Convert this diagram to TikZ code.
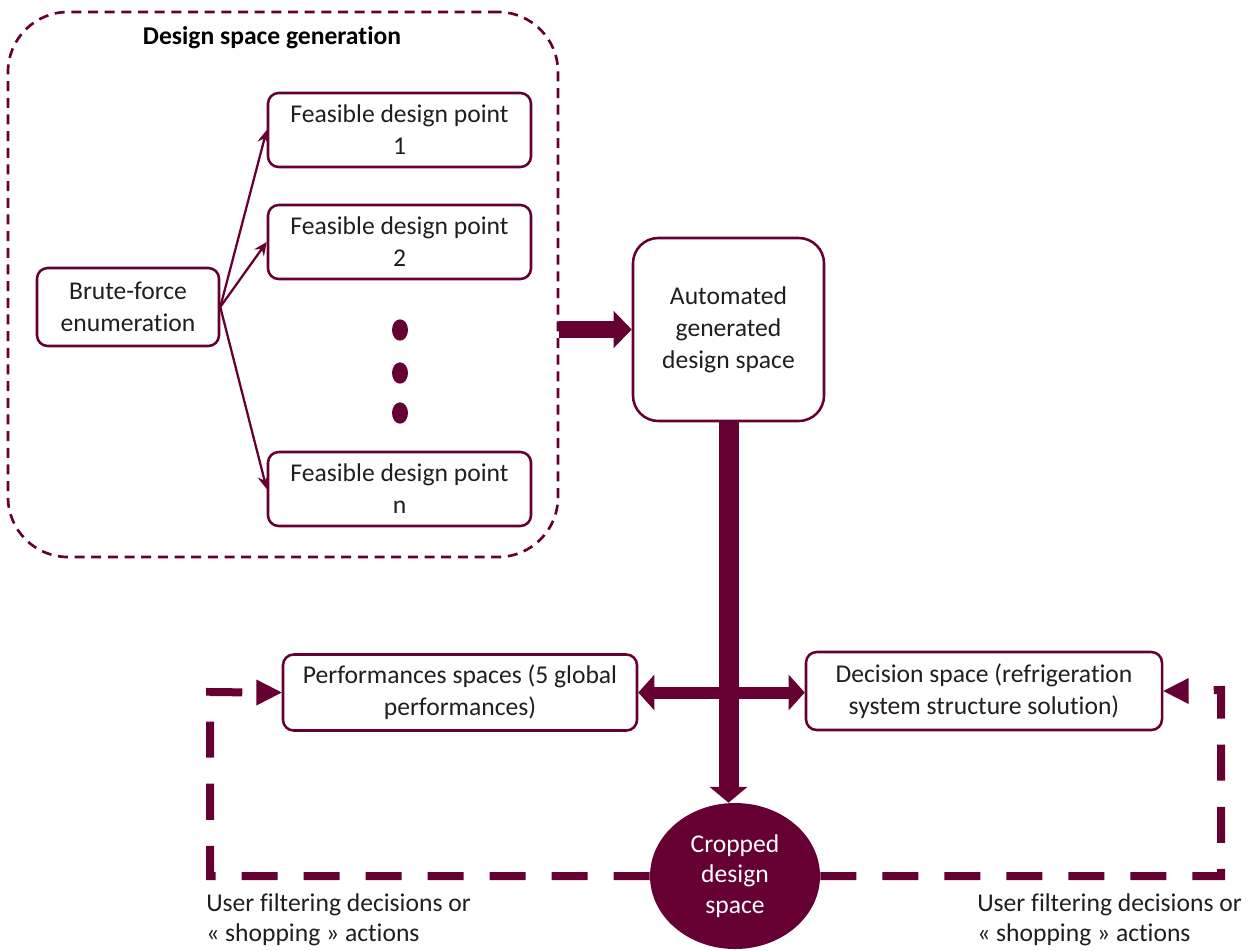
\documentclass[tikz,border=0pt]{standalone}
\usepackage{fontspec}
\setmainfont{Carlito}[Ligatures=NoCommon]
\usetikzlibrary{arrows.meta,shapes.geometric}
\definecolor{wine}{RGB}{102,0,51}
\begin{document}
\begin{tikzpicture}[x=0.75pt,y=-0.75pt,
  txt/.style={font=\fontsize{19.2}{24}\selectfont, text=black!88},
  box/.style={txt, draw=wine, line width=1.9pt, rounded corners=8pt, fill=white, align=center, inner sep=0pt},
  dot/.style={ellipse, fill=wine, inner sep=0pt, minimum width=12pt, minimum height=16pt},
  thinarrow/.style={draw=wine, line width=1.7pt, -{Stealth[length=10pt,width=9pt,inset=3.5pt]}},
  thickdash/.style={draw=wine, line width=6pt, dash pattern=on 27pt off 19.5pt},
  label/.style={txt, align=left, inner sep=0pt, anchor=north west, font=\fontsize{19.2}{22.5}\selectfont}
]
\useasboundingbox (0,0) rectangle (1251,950);

% container
\node[draw=wine, line width=2pt, dash pattern=on 7.5pt off 5pt, rounded corners=45pt,
      minimum width=412.5pt, minimum height=408.75pt, inner sep=0pt] (cont) at (283,284.5) {};
\node[txt, font=\fontsize{19.2}{24}\selectfont\bfseries, text=black] (title) at (272,38) {Design space generation};

% boxes
\node[box, minimum width=136.5pt, minimum height=58.5pt] (brute) at (128,307) {Brute-force\\enumeration};
\node[box, minimum width=197.25pt, minimum height=55.5pt] (f1) at (399.5,130) {Feasible design point\\1};
\node[box, minimum width=197.25pt, minimum height=55.5pt] (f2) at (399.5,242) {Feasible design point\\2};
\node[box, minimum width=197.25pt, minimum height=55.5pt] (fn) at (399.5,489) {Feasible design point\\n};
\node[dot] (d1) at (400,330) {};
\node[dot] (d2) at (400,373) {};
\node[dot] (d3) at (400,413) {};

\draw[thinarrow] (brute.east) -- (f1.west);
\draw[thinarrow] (brute.east) -- (f2.west);
\draw[thinarrow] (brute.east) -- (fn.west);

\node[box, rounded corners=19pt, minimum width=143.25pt, minimum height=137.25pt] (auto) at (728.5,329.5) {Automated\\generated\\design space};

\node[box, minimum width=265.5pt, minimum height=57pt] (perf) at (460,692.5) {Performances spaces (5 global\\performances)};
\node[box, minimum width=267pt, minimum height=58.5pt] (dec) at (984,691) {Decision space (refrigeration\\system structure solution)};

\node[ellipse, fill=wine, inner sep=0pt, minimum width=127.5pt, minimum height=109.5pt,
      txt, text=white, align=center, font=\fontsize{19.2}{23}\selectfont] (crop) at (735,876) {Cropped\\design\\space};

% thick arrows
\draw[draw=wine, line width=12.5pt, -{Triangle[width=27pt,length=13.5pt]}] (auto.west -| cont.east) -- (auto.west);
\draw[draw=wine, line width=15pt, -{Triangle[width=28pt,length=12pt]}] (auto.south) -- (auto.south |- crop.north);
\draw[draw=wine, line width=9pt, {Triangle[width=26pt,length=12pt]}-{Triangle[width=26pt,length=12pt]}] (perf.east) -- (perf.east -| dec.west);

% dashed feedback loops
\coordinate (lc) at (210,692);
\coordinate (rc) at (1221,690);
\draw[thickdash] (crop.west) -| (lc) -- ([xshift=-18pt]perf.west);
\draw[thickdash] (crop.east) -| (rc) -- ([xshift=18pt]dec.east);
\fill[wine] (perf.west) -- ++(-19pt,-9.75pt) -- ++(0,19.5pt) -- cycle;
\fill[wine] (dec.east) -- ++(19pt,-9.75pt) -- ++(0,19.5pt) -- cycle;

\node[label] (ll) at (206,893) {User filtering decisions or\\« shopping » actions};
\node[label] (rl) at (977,893) {User filtering decisions or\\« shopping » actions};
\end{tikzpicture}
\end{document}
